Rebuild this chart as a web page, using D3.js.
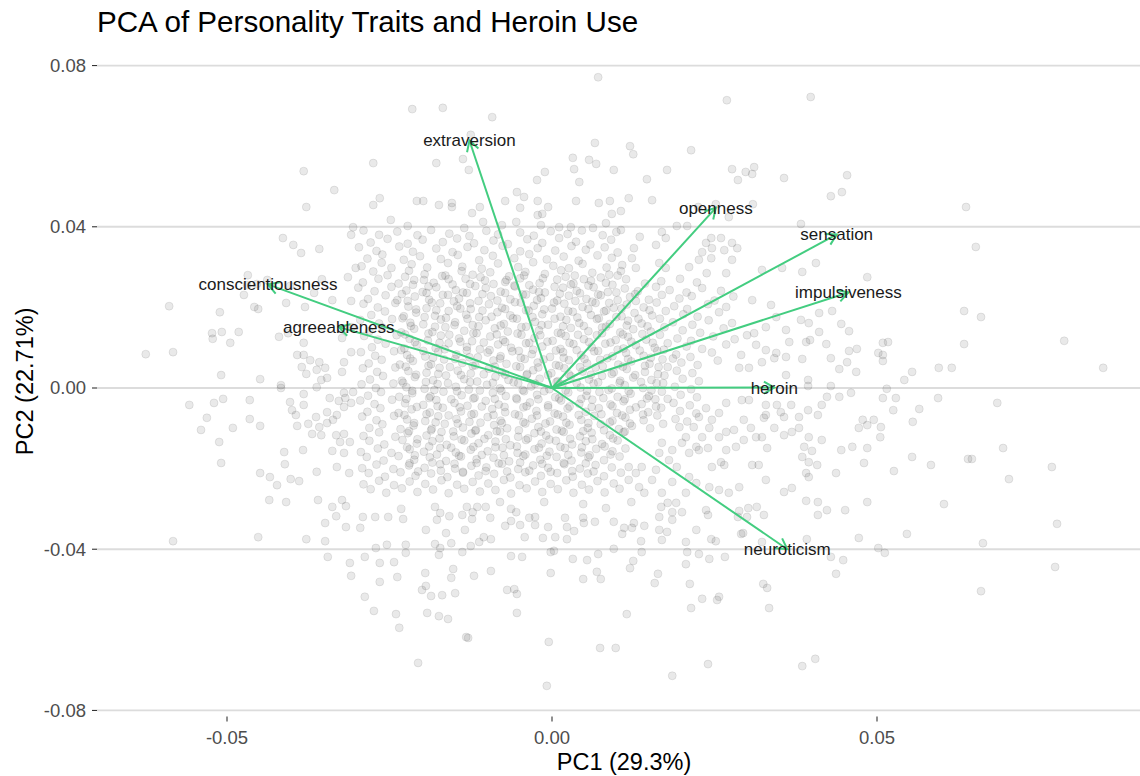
<!DOCTYPE html>
<html>
<head>
<meta charset="utf-8">
<script src="https://cdn.jsdelivr.net/npm/d3@7"></script>
<style>
  body { margin: 0; background: #ffffff; }
  text { font-family: "Liberation Sans", Arial, Helvetica, sans-serif; }
</style>
</head>
<body>
<svg id="chart" width="1140" height="776"></svg>
<script>
// ---- Chart text ----
const chartTitle = "PCA of Personality Traits and Heroin Use";
const xTitle = "PC1 (29.3%)";
const yTitle = "PC2 (22.71%)";

// ---- Axis ticks ----
const xTickValues = [-0.05, 0.00, 0.05];
const xTickLabels = ["-0.05", "0.00", "0.05"];
const yTickValues = [-0.08, -0.04, 0.00, 0.04, 0.08];
const yTickLabels = ["-0.08", "-0.04", "0.00", "0.04", "0.08"];

// ---- Variable loadings (arrow tips) ----
const variables = ["extraversion", "openness", "sensation", "impulsiveness", "heroin", "neuroticism", "conscientiousness", "agreeableness"];
const loadingPC1 = [-0.0127, 0.0252, 0.0438, 0.0456, 0.0342, 0.0362, -0.0437, -0.0328];
const loadingPC2 = [0.0614, 0.0447, 0.0381, 0.0237, 0.0001, -0.0400, 0.0257, 0.0151];

// ---- Respondent scores on PC1 / PC2 ----
const outerScores = [
  [0.0071,0.0771],[0.0398,0.0722],[-0.0215,0.0692],[-0.0168,0.0695],[-0.0092,0.0672],[0.0269,0.0714],
  [0.0066,0.0608],[0.0032,0.0571],[0.0057,0.0566],[0.0068,0.0556],[0.0095,0.0541],[0.0034,0.0543],[-0.0011,0.0536],[-0.0023,0.0516],[0.0042,0.0511],
  [-0.0275,0.0558],[-0.0178,0.0558],[-0.0137,0.0568],[-0.0128,0.0541],[-0.0125,0.0628],
  [-0.0054,0.0486],[-0.0043,0.0474],[-0.0072,0.0464],[-0.0022,0.0464],[-0.0006,0.0449],[-0.0049,0.0447],[0.0037,0.0464],[0.0072,0.0459],[0.0089,0.0464],[0.0092,0.0432],
  [-0.0022,0.0429],[-0.0015,0.0432],[-0.0123,0.0434],[-0.0111,0.0449],[-0.0154,0.0449],[-0.0154,0.0459],[-0.0174,0.0454],[-0.0198,0.0464],[-0.0208,0.0464],[-0.0265,0.0471],
  [-0.0275,0.0454],[-0.0248,0.0417],[-0.0222,0.0402],[-0.0106,0.0412],[-0.0135,0.0397],[-0.0077,0.0404],[-0.0055,0.0412],[-0.0017,0.0404],[0.0011,0.0399],[0.0029,0.0399],[0.0063,0.0397],[0.0083,0.0409],
  [0.0120,0.0600],[0.0125,0.0580],[0.0214,0.0590],[0.0177,0.0541],[0.0146,0.0518],[0.0277,0.0543],[0.0286,0.0516],[0.0298,0.0536],[0.0308,0.0531],[0.0311,0.0548],
  [0.0357,0.0521],[0.0454,0.0528],[0.0446,0.0486],[0.0429,0.0476],[0.0118,0.0471],[0.0154,0.0466],[0.0225,0.0449],[0.0252,0.0456],[0.0309,0.0456],[0.0272,0.0424],
  [0.0383,0.0407],[0.0106,0.0439],[0.0192,0.0402],[0.0208,0.0402],[0.0106,0.0392],[0.0135,0.0375],[0.0169,0.0387],[0.0175,0.0372],[0.0160,0.0355],[0.0126,0.0347],
  [0.0123,0.0322],[0.0108,0.0305],[0.0129,0.0298],[0.0165,0.0310],[0.0175,0.0298],[0.0211,0.0300],[0.0231,0.0337],[0.0246,0.0347],[0.0237,0.0360],[0.0260,0.0372],
  [0.0245,0.0372],[0.0277,0.0360],[0.0285,0.0347],[0.0265,0.0342],[0.0226,0.0318],[0.0245,0.0322],[0.0277,0.0318],[0.0238,0.0285],[0.0268,0.0285],[0.0323,0.0293],
  [0.0354,0.0298],[0.0385,0.0288],[0.0406,0.0310],[0.0485,0.0275],[0.0637,0.0449],[0.0652,0.0350],
  [-0.0382,0.0538],[-0.0335,0.0491],[-0.0378,0.0449],[-0.0306,0.0399],[-0.0309,0.0380],[-0.0414,0.0372],[-0.0398,0.0355],[-0.0386,0.0335],[-0.0358,0.0345],[-0.0302,0.0298],
  [-0.0468,0.0280],[-0.0438,0.0268],[-0.0354,0.0270],[-0.0314,0.0275],
  [-0.0589,0.0203],[-0.0511,0.0188],[-0.0523,0.0136],[-0.0522,0.0122],[-0.0508,0.0139],[-0.0495,0.0112],[-0.0482,0.0139],[-0.0625,0.0084],[-0.0583,0.0089],[-0.0509,0.0032],
  [-0.0449,0.0022],[-0.0417,0.0007],[-0.0417,0.0000],[-0.0558,-0.0042],[-0.0520,-0.0037],[-0.0506,-0.0027],[-0.0465,-0.0030],[-0.0531,-0.0074],[-0.0540,-0.0104],[-0.0491,-0.0099],
  [-0.0465,-0.0077],[-0.0449,-0.0094],[-0.0512,-0.0134],[-0.0509,-0.0186],[-0.0449,-0.0211],[-0.0434,-0.0221],[-0.0423,-0.0241],[-0.0402,-0.0226],[-0.0389,-0.0231],[-0.0411,-0.0189],
  [-0.0412,-0.0159],[-0.0383,-0.0154],[-0.0362,-0.0208],[-0.0331,-0.0196],[-0.0312,-0.0211],[-0.0403,-0.0035],[-0.0400,-0.0055],[-0.0394,-0.0067],[-0.0382,-0.0042],[-0.0382,-0.0015],
  [-0.0392,-0.0094],[-0.0375,-0.0089],[-0.0363,-0.0072],[-0.0346,-0.0060],[-0.0358,-0.0097],[-0.0346,-0.0087],[-0.0331,-0.0067],[-0.0369,-0.0114],[-0.0355,-0.0117],[-0.0338,-0.0156],
  [-0.0326,-0.0134],[-0.0320,-0.0114],[-0.0311,-0.0134],[-0.0332,-0.0117],[-0.0320,-0.0161],[-0.0337,-0.0079],[-0.0320,-0.0047],[-0.0309,-0.0037],[-0.0318,-0.0025],[-0.0320,-0.0012],
  [-0.0306,-0.0010],[-0.0342,-0.0025],[-0.0328,-0.0032],[-0.0362,0.0002],[-0.0355,0.0020],[-0.0349,0.0050],[-0.0362,0.0045],[-0.0346,0.0025],[-0.0378,0.0035],[-0.0385,0.0052],
  [-0.0382,0.0082],[-0.0392,0.0082],[-0.0372,0.0069],[-0.0358,0.0064],[-0.0320,0.0064],[-0.0323,0.0040],[-0.0382,0.0112],[-0.0420,0.0127],[-0.0406,0.0136],[-0.0323,0.0124],
  [-0.0309,0.0089],[-0.0320,0.0144],[-0.0308,0.0151],[-0.0458,0.0201],[-0.0452,0.0196],[-0.0474,0.0231],[-0.0409,0.0211],[-0.0366,0.0236],[-0.0338,0.0218],[-0.0309,0.0216],
  [-0.0380,0.0201],[-0.0469,0.0255],[-0.0454,0.0258],[-0.0403,0.0253],
  [-0.0583,-0.0380],[-0.0452,-0.0370],[-0.0378,-0.0375],[-0.0349,-0.0380],[-0.0345,-0.0419],[-0.0311,-0.0434],[-0.0309,-0.0466],[-0.0349,-0.0335],[-0.0332,-0.0318],[-0.0338,-0.0295],
  [-0.0317,-0.0345],[-0.0317,-0.0293],[-0.0435,-0.0278],[-0.0409,-0.0283],[-0.0360,-0.0278],[-0.0323,-0.0278],
  [-0.0288,-0.0518],[-0.0274,-0.0553],[-0.0240,-0.0561],[-0.0235,-0.0595],[-0.0206,-0.0682],[-0.0192,-0.0558],[-0.0174,-0.0566],[-0.0160,-0.0573],[-0.0132,-0.0618],[-0.0129,-0.0620],
  [-0.0054,-0.0558],[-0.0005,-0.0630],[-0.0008,-0.0739],[0.0074,-0.0645],[0.0098,-0.0645],[-0.0265,-0.0481],[-0.0238,-0.0469],[-0.0195,-0.0459],[-0.0200,-0.0501],[-0.0194,-0.0491],
  [-0.0186,-0.0516],[-0.0169,-0.0514],[-0.0149,-0.0509],[-0.0155,-0.0471],[-0.0152,-0.0449],[-0.0120,-0.0466],[-0.0094,-0.0454],[-0.0069,-0.0501],[-0.0058,-0.0499],[-0.0054,-0.0511],
  [-0.0002,-0.0459],[0.0048,-0.0474],[0.0069,-0.0456],[0.0075,-0.0474],[0.0032,-0.0424],[0.0054,-0.0427],[0.0071,-0.0412],[-0.0063,-0.0417],[-0.0046,-0.0419],[-0.0002,-0.0407],
  [0.0003,-0.0404],[-0.0288,-0.0419],[-0.0265,-0.0434],[-0.0243,-0.0432],[-0.0225,-0.0389],[-0.0225,-0.0409],[-0.0254,-0.0389],[-0.0271,-0.0397],[-0.0180,-0.0387],[-0.0172,-0.0397],
  [-0.0174,-0.0414],[-0.0155,-0.0385],[-0.0138,-0.0407],[-0.0125,-0.0392],[-0.0112,-0.0382],[-0.0105,-0.0370],[-0.0094,-0.0375],[-0.0042,-0.0370],[-0.0014,-0.0372],[0.0005,-0.0370],
  [0.0023,-0.0375],[0.0095,-0.0399],[-0.0295,-0.0347],[-0.0291,-0.0320],[-0.0272,-0.0320],[-0.0252,-0.0320],[-0.0229,-0.0325],[-0.0232,-0.0300],[-0.0194,-0.0352],[-0.0177,-0.0327],
  [-0.0163,-0.0360],[-0.0158,-0.0318],[-0.0180,-0.0295],[-0.0172,-0.0310],[-0.0134,-0.0352],[-0.0138,-0.0315],[-0.0123,-0.0325],[-0.0122,-0.0308],[-0.0131,-0.0295],[-0.0115,-0.0295],
  [-0.0102,-0.0295],[-0.0095,-0.0322],[-0.0072,-0.0342],[-0.0063,-0.0330],[-0.0049,-0.0340],[-0.0063,-0.0300],[-0.0055,-0.0308],[-0.0035,-0.0322],[-0.0026,-0.0320],[-0.0026,-0.0340],
  [-0.0006,-0.0345],[0.0020,-0.0322],[0.0023,-0.0345],[0.0034,-0.0355],[0.0049,-0.0335],[0.0048,-0.0322],[0.0066,-0.0332],[0.0048,-0.0288],[0.0083,-0.0298],[0.0095,-0.0332],
  [-0.0012,-0.0283],[-0.0080,-0.0283],
  [0.0115,-0.0561],[0.0185,-0.0714],[0.0240,-0.0685],[0.0385,-0.0690],[0.0405,-0.0672],[0.0214,-0.0546],[0.0231,-0.0523],[0.0254,-0.0526],[0.0257,-0.0518],[0.0334,-0.0546],
  [0.0325,-0.0486],[0.0331,-0.0496],[0.0212,-0.0486],[0.0158,-0.0484],[0.0163,-0.0461],[0.0120,-0.0447],[0.0125,-0.0429],[0.0138,-0.0407],[0.0206,-0.0437],[0.0208,-0.0407],
  [0.0226,-0.0412],[0.0242,-0.0424],[0.0266,-0.0419],[0.0206,-0.0382],[0.0222,-0.0352],[0.0245,-0.0375],[0.0252,-0.0380],[0.0291,-0.0362],[0.0294,-0.0360],[0.0323,-0.0382],
  [0.0392,-0.0375],[0.0429,-0.0419],[0.0448,-0.0427],[0.0437,-0.0461],[0.0472,-0.0372],[0.0502,-0.0397],[0.0137,-0.0380],[0.0169,-0.0377],[0.0177,-0.0357],[0.0165,-0.0352],
  [0.0142,-0.0342],[0.0126,-0.0335],[0.0111,-0.0347],[0.0123,-0.0347],[0.0108,-0.0362],[0.0185,-0.0327],[0.0200,-0.0308],[0.0185,-0.0308],[0.0165,-0.0320],[0.0168,-0.0295],
  [0.0237,-0.0303],[0.0240,-0.0315],[0.0288,-0.0305],[0.0302,-0.0298],[0.0315,-0.0295],[0.0326,-0.0315],[0.0286,-0.0320],[0.0300,-0.0320],[0.0409,-0.0315],[0.0423,-0.0303],
  [0.0451,-0.0303],[0.0485,-0.0283],[0.0409,-0.0283],[0.0391,-0.0280],[0.0122,-0.0283],[0.0178,-0.0285],[0.0191,-0.0285],
  [0.0603,-0.0288],[0.0546,-0.0362],[0.0512,-0.0409],[0.0663,-0.0385],[0.0777,-0.0337],[0.0774,-0.0444],[0.0660,-0.0504],
  [0.0634,0.0191],[0.0660,0.0176],[0.0634,0.0109],[0.0788,0.0117],[0.0848,0.0050],[0.0595,0.0050],[0.0615,0.0050],[0.0554,0.0040],[0.0542,0.0020],[0.0515,-0.0002],
  [0.0509,-0.0025],[0.0529,-0.0025],[0.0594,-0.0025],[0.0685,-0.0037],[0.0565,-0.0052],[0.0525,-0.0055],[0.0555,-0.0084],[0.0506,-0.0097],[0.0505,-0.0122],[0.0694,-0.0149],
  [0.0640,-0.0176],[0.0646,-0.0176],[0.0554,-0.0171],[0.0583,-0.0191],[0.0769,-0.0196],[0.0526,-0.0206],[0.0703,-0.0226],[0.0509,0.0112],[0.0517,0.0114],[0.0509,0.0082],
  [0.0509,0.0067],
  [0.0445,0.0159],[0.0457,0.0141],[0.0411,0.0139],[0.0391,0.0114],[0.0397,0.0119],[0.0422,0.0109],[0.0457,0.0092],[0.0469,0.0097],[0.0429,0.0074],[0.0454,0.0064],
  [0.0442,0.0047],[0.0468,0.0040],[0.0502,0.0087],[0.0385,0.0072],[0.0365,0.0114],[0.0360,0.0144],[0.0383,0.0169],[0.0411,0.0186],[0.0431,0.0191],[0.0395,0.0161],
  [0.0337,0.0206],[0.0308,0.0218],[0.0345,0.0176],[0.0329,0.0151],[0.0311,0.0136],[0.0300,0.0131],[0.0314,0.0107],[0.0329,0.0094],[0.0342,0.0074],[0.0345,0.0087],
  [0.0360,0.0077],[0.0323,0.0064],[0.0291,0.0082],[0.0288,0.0050],[0.0303,0.0050],[0.0360,0.0032],[0.0394,0.0020],[0.0394,0.0005],[0.0429,0.0005],[0.0460,-0.0012],
  [0.0442,-0.0022],[0.0423,-0.0022],[0.0415,-0.0042],[0.0394,-0.0055],[0.0409,-0.0067],[0.0380,-0.0072],[0.0368,-0.0042],[0.0346,-0.0042],[0.0329,-0.0042],[0.0352,-0.0060],
  [0.0357,-0.0072],[0.0329,-0.0067],[0.0342,-0.0099],[0.0357,-0.0117],[0.0369,-0.0109],[0.0380,-0.0099],[0.0395,-0.0122],[0.0388,-0.0146],[0.0400,-0.0156],[0.0385,-0.0171],
  [0.0395,-0.0184],[0.0415,-0.0129],[0.0445,-0.0154],[0.0462,-0.0146],[0.0485,-0.0149],[0.0478,-0.0079],[0.0485,-0.0092],[0.0472,-0.0099],[0.0495,-0.0079],[0.0480,-0.0186],
  [0.0437,-0.0211],[0.0408,-0.0191],[0.0391,-0.0211],[0.0395,-0.0221],[0.0369,-0.0248],[0.0357,-0.0258],[0.0329,-0.0228],[0.0318,-0.0191],[0.0308,-0.0191],[0.0331,-0.0149],
  [0.0323,-0.0122],[0.0314,-0.0122],[0.0306,-0.0099],[0.0295,-0.0129],[0.0283,-0.0146],[0.0268,-0.0154],[0.0260,-0.0184],[0.0265,-0.0191],[0.0246,-0.0196],[0.0240,-0.0149],
  [0.0226,-0.0154],[0.0231,-0.0122],[0.0242,-0.0099],[0.0257,-0.0122],[0.0268,-0.0109],[0.0280,-0.0104],[0.0295,-0.0079],[0.0326,-0.0074],[0.0292,-0.0030],[0.0303,-0.0030],
  [0.0268,-0.0037],[0.0257,-0.0062],[0.0237,-0.0050],[0.0226,-0.0072],[0.0246,-0.0079],[0.0218,-0.0097],[0.0206,-0.0122],[0.0222,-0.0146],[0.0211,-0.0161],[0.0200,-0.0136],
  [0.0185,-0.0154],[0.0169,-0.0136],[0.0165,-0.0161],[0.0180,-0.0179],[0.0192,-0.0196],[0.0211,-0.0221],[0.0222,-0.0236],[0.0242,-0.0246],[0.0257,-0.0253],[0.0288,-0.0246],
  [0.0272,-0.0260],[0.0185,-0.0233],[0.0154,-0.0228],[0.0134,-0.0246],[0.0129,-0.0211],[0.0118,-0.0196],[0.0138,-0.0196],[0.0160,-0.0203],[0.0118,-0.0228],[0.0142,-0.0260],
  [0.0169,-0.0260],[0.0206,-0.0260]
];

// Dense central band, read row by row
const coreScores = [
  [-0.0290,0.0391],[-0.0266,0.0380],[-0.0238,0.0388],[-0.0207,0.0379],[-0.0186,0.0392],[-0.0158,0.0383],[-0.0127,0.0377],[-0.0101,0.0390],[-0.0083,0.0381],[-0.0049,0.0386],[-0.0028,0.0378],[-0.0002,0.0389],[0.0024,0.0382],[0.0046,0.0391],[0.0078,0.0379],[0.0099,0.0387],
  [-0.0279,0.0361],[-0.0253,0.0370],[-0.0222,0.0358],[-0.0199,0.0368],[-0.0168,0.0362],[-0.0146,0.0371],[-0.0120,0.0359],[-0.0090,0.0366],[-0.0068,0.0357],[-0.0038,0.0369],[-0.0015,0.0360],[0.0011,0.0372],[0.0037,0.0363],[0.0059,0.0356],[0.0091,0.0368],
  [-0.0297,0.0349],[-0.0270,0.0340],[-0.0235,0.0351],[-0.0214,0.0338],[-0.0178,0.0346],[-0.0153,0.0337],[-0.0130,0.0350],[-0.0104,0.0342],[-0.0076,0.0353],[-0.0049,0.0339],[-0.0022,0.0347],[0.0005,0.0341],[0.0030,0.0352],[0.0052,0.0343],[0.0081,0.0349],[0.0101,0.0336],
  [-0.0284,0.0321],[-0.0261,0.0331],[-0.0228,0.0318],[-0.0203,0.0327],[-0.0171,0.0320],[-0.0145,0.0330],[-0.0112,0.0317],[-0.0091,0.0328],[-0.0058,0.0322],[-0.0035,0.0332],[-0.0008,0.0319],[0.0018,0.0326],[0.0041,0.0316],[0.0070,0.0329],[0.0092,0.0323],
  [-0.0293,0.0302],[-0.0262,0.0311],[-0.0247,0.0298],[-0.0216,0.0307],[-0.0192,0.0299],[-0.0160,0.0310],[-0.0138,0.0301],[-0.0108,0.0296],[-0.0083,0.0309],[-0.0052,0.0300],[-0.0029,0.0312],[0.0002,0.0303],[0.0026,0.0297],[0.0047,0.0308],[0.0084,0.0299],
  [-0.0275,0.0289],[-0.0253,0.0280],[-0.0220,0.0291],[-0.0196,0.0282],[-0.0169,0.0278],[-0.0139,0.0290],[-0.0122,0.0281],[-0.0095,0.0287],[-0.0066,0.0277],[-0.0041,0.0288],[-0.0011,0.0283],[0.0014,0.0292],[0.0035,0.0279],[0.0062,0.0286],[0.0088,0.0281],[0.0106,0.0290],
  [-0.0291,0.0262],[-0.0267,0.0271],[-0.0236,0.0259],[-0.0212,0.0268],[-0.0182,0.0261],[-0.0159,0.0270],[-0.0126,0.0258],[-0.0103,0.0267],[-0.0072,0.0263],[-0.0049,0.0272],[-0.0019,0.0260],[0.0008,0.0269],[0.0029,0.0257],[0.0060,0.0266],[0.0083,0.0261],[0.0114,0.0270],[0.0143,0.0259],[0.0168,0.0265],[0.0197,0.0271],[0.0223,0.0262],
  [-0.0298,0.0249],[-0.0273,0.0240],[-0.0247,0.0251],[-0.0224,0.0242],[-0.0199,0.0238],[-0.0178,0.0250],[-0.0148,0.0243],[-0.0131,0.0236],[-0.0102,0.0248],[-0.0079,0.0239],[-0.0057,0.0252],[-0.0029,0.0244],[-0.0011,0.0237],[0.0017,0.0249],[0.0038,0.0241],[0.0064,0.0250],[0.0086,0.0238],[0.0112,0.0247],[0.0132,0.0240],[0.0160,0.0251],[0.0181,0.0243],[0.0207,0.0237],[0.0231,0.0248],[0.0260,0.0241],
  [-0.0283,0.0221],[-0.0256,0.0230],[-0.0238,0.0218],[-0.0211,0.0227],[-0.0189,0.0219],[-0.0160,0.0231],[-0.0143,0.0222],[-0.0113,0.0216],[-0.0094,0.0228],[-0.0064,0.0220],[-0.0045,0.0232],[-0.0017,0.0223],[0.0008,0.0217],[0.0026,0.0229],[0.0053,0.0221],[0.0075,0.0230],[0.0101,0.0218],[0.0120,0.0226],[0.0149,0.0219],[0.0169,0.0231],[0.0196,0.0222],[0.0215,0.0228],[0.0250,0.0217],[0.0279,0.0227],
  [-0.0290,0.0209],[-0.0268,0.0200],[-0.0241,0.0211],[-0.0221,0.0202],[-0.0193,0.0198],[-0.0172,0.0210],[-0.0146,0.0203],[-0.0125,0.0196],[-0.0097,0.0208],[-0.0077,0.0199],[-0.0048,0.0212],[-0.0028,0.0204],[0.0000,0.0197],[0.0019,0.0209],[0.0047,0.0201],[0.0067,0.0211],[0.0095,0.0199],[0.0115,0.0207],[0.0141,0.0200],[0.0161,0.0212],[0.0188,0.0203],[0.0208,0.0196],[0.0240,0.0208],[0.0268,0.0201],
  [-0.0278,0.0181],[-0.0257,0.0190],[-0.0228,0.0178],[-0.0209,0.0187],[-0.0180,0.0179],[-0.0159,0.0191],[-0.0132,0.0182],[-0.0112,0.0176],[-0.0084,0.0188],[-0.0064,0.0180],[-0.0036,0.0192],[-0.0015,0.0183],[0.0013,0.0177],[0.0032,0.0189],[0.0060,0.0181],[0.0080,0.0190],[0.0107,0.0178],[0.0127,0.0186],[0.0154,0.0180],[0.0175,0.0191],[0.0202,0.0183],[0.0224,0.0177],[0.0257,0.0188],
  [-0.0295,0.0169],[-0.0266,0.0160],[-0.0246,0.0171],[-0.0218,0.0162],[-0.0198,0.0158],[-0.0171,0.0170],[-0.0149,0.0163],[-0.0122,0.0156],[-0.0102,0.0168],[-0.0074,0.0159],[-0.0054,0.0172],[-0.0026,0.0164],[-0.0006,0.0157],[0.0022,0.0169],[0.0042,0.0161],[0.0069,0.0171],[0.0089,0.0159],[0.0117,0.0167],[0.0138,0.0160],[0.0166,0.0172],[0.0186,0.0163],[0.0216,0.0157],[0.0241,0.0168],[0.0277,0.0161],
  [-0.0281,0.0141],[-0.0261,0.0150],[-0.0232,0.0138],[-0.0212,0.0147],[-0.0184,0.0139],[-0.0164,0.0151],[-0.0135,0.0142],[-0.0116,0.0136],[-0.0088,0.0148],[-0.0068,0.0140],[-0.0040,0.0152],[-0.0020,0.0143],[0.0009,0.0137],[0.0029,0.0149],[0.0056,0.0141],[0.0077,0.0150],[0.0105,0.0138],[0.0125,0.0146],[0.0152,0.0140],[0.0173,0.0151],[0.0201,0.0143],[0.0228,0.0137],[0.0264,0.0148],
  [-0.0289,0.0129],[-0.0268,0.0120],[-0.0239,0.0131],[-0.0219,0.0122],[-0.0191,0.0118],[-0.0171,0.0130],[-0.0143,0.0123],[-0.0123,0.0116],[-0.0095,0.0128],[-0.0075,0.0119],[-0.0047,0.0132],[-0.0027,0.0124],[0.0001,0.0117],[0.0021,0.0129],[0.0049,0.0121],[0.0069,0.0131],[0.0098,0.0119],[0.0117,0.0127],[0.0145,0.0120],[0.0166,0.0132],[0.0193,0.0123],[0.0214,0.0117],[0.0248,0.0128],[0.0281,0.0121],
  [-0.0277,0.0101],[-0.0256,0.0110],[-0.0227,0.0098],[-0.0208,0.0107],[-0.0179,0.0099],[-0.0159,0.0111],[-0.0131,0.0102],[-0.0111,0.0096],[-0.0083,0.0108],[-0.0063,0.0100],[-0.0035,0.0112],[-0.0015,0.0103],[0.0013,0.0097],[0.0033,0.0109],[0.0061,0.0101],[0.0082,0.0110],[0.0110,0.0098],[0.0129,0.0106],[0.0158,0.0100],[0.0178,0.0111],[0.0207,0.0103],[0.0231,0.0097],[0.0268,0.0108],
  [-0.0294,0.0089],[-0.0272,0.0080],[-0.0243,0.0091],[-0.0223,0.0082],[-0.0195,0.0078],[-0.0175,0.0090],[-0.0147,0.0083],[-0.0127,0.0076],[-0.0099,0.0088],[-0.0079,0.0079],[-0.0051,0.0092],[-0.0031,0.0084],[-0.0003,0.0077],[0.0017,0.0089],[0.0045,0.0081],[0.0065,0.0091],[0.0093,0.0079],[0.0114,0.0087],[0.0141,0.0080],[0.0162,0.0092],[0.0191,0.0083],[0.0213,0.0077],[0.0246,0.0088],
  [-0.0282,0.0061],[-0.0262,0.0070],[-0.0234,0.0058],[-0.0214,0.0067],[-0.0186,0.0059],[-0.0166,0.0071],[-0.0138,0.0062],[-0.0118,0.0056],[-0.0090,0.0068],[-0.0070,0.0060],[-0.0042,0.0072],[-0.0022,0.0063],[0.0006,0.0057],[0.0026,0.0069],[0.0054,0.0061],[0.0074,0.0070],[0.0102,0.0058],[0.0122,0.0066],[0.0150,0.0060],[0.0170,0.0071],[0.0199,0.0063],[0.0224,0.0057],[0.0255,0.0068],
  [-0.0291,0.0049],[-0.0269,0.0040],[-0.0241,0.0051],[-0.0221,0.0042],[-0.0193,0.0038],[-0.0173,0.0050],[-0.0145,0.0043],[-0.0125,0.0036],[-0.0097,0.0048],[-0.0077,0.0039],[-0.0049,0.0052],[-0.0029,0.0044],[-0.0001,0.0037],[0.0019,0.0049],[0.0047,0.0041],[0.0067,0.0051],[0.0095,0.0039],[0.0115,0.0047],[0.0143,0.0040],[0.0164,0.0052],[0.0192,0.0043],[0.0216,0.0037],
  [-0.0280,0.0021],[-0.0260,0.0030],[-0.0231,0.0018],[-0.0211,0.0027],[-0.0183,0.0019],[-0.0163,0.0031],[-0.0135,0.0022],[-0.0115,0.0016],[-0.0087,0.0028],[-0.0067,0.0020],[-0.0039,0.0032],[-0.0019,0.0023],[0.0009,0.0017],[0.0029,0.0029],[0.0057,0.0021],[0.0077,0.0030],[0.0105,0.0018],[0.0125,0.0026],[0.0153,0.0020],[0.0173,0.0031],[0.0201,0.0023],[0.0226,0.0017],
  [-0.0293,0.0009],[-0.0271,0.0000],[-0.0244,0.0011],[-0.0224,0.0002],[-0.0196,-0.0002],[-0.0176,0.0010],[-0.0148,0.0003],[-0.0128,-0.0004],[-0.0100,0.0008],[-0.0080,-0.0001],[-0.0052,0.0012],[-0.0032,0.0004],[-0.0004,-0.0003],[0.0016,0.0009],[0.0044,0.0001],[0.0064,0.0011],[0.0092,-0.0001],[0.0112,0.0007],[0.0140,0.0000],[0.0161,0.0012],[0.0189,0.0003],[0.0214,-0.0003],
  [-0.0283,-0.0019],[-0.0263,-0.0010],[-0.0235,-0.0022],[-0.0215,-0.0013],[-0.0187,-0.0021],[-0.0167,-0.0009],[-0.0139,-0.0018],[-0.0119,-0.0024],[-0.0091,-0.0012],[-0.0071,-0.0020],[-0.0043,-0.0008],[-0.0023,-0.0017],[0.0005,-0.0023],[0.0025,-0.0011],[0.0053,-0.0019],[0.0073,-0.0010],[0.0101,-0.0022],[0.0121,-0.0014],[0.0149,-0.0020],[0.0169,-0.0009],[0.0198,-0.0017],[0.0223,-0.0023],
  [-0.0295,-0.0031],[-0.0273,-0.0040],[-0.0246,-0.0029],[-0.0226,-0.0038],[-0.0198,-0.0042],[-0.0178,-0.0030],[-0.0150,-0.0037],[-0.0130,-0.0044],[-0.0102,-0.0032],[-0.0082,-0.0041],[-0.0054,-0.0028],[-0.0034,-0.0036],[-0.0006,-0.0043],[0.0014,-0.0031],[0.0042,-0.0039],[0.0062,-0.0029],[0.0090,-0.0041],[0.0110,-0.0033],[0.0138,-0.0040],[0.0159,-0.0028],[0.0187,-0.0037],[0.0212,-0.0043],
  [-0.0284,-0.0059],[-0.0264,-0.0050],[-0.0236,-0.0062],[-0.0216,-0.0053],[-0.0188,-0.0061],[-0.0168,-0.0049],[-0.0140,-0.0058],[-0.0120,-0.0064],[-0.0092,-0.0052],[-0.0072,-0.0060],[-0.0044,-0.0048],[-0.0024,-0.0057],[0.0004,-0.0063],[0.0024,-0.0051],[0.0052,-0.0059],[0.0072,-0.0050],[0.0100,-0.0062],[0.0120,-0.0054],[0.0148,-0.0060],[0.0168,-0.0049],[0.0197,-0.0057],[0.0222,-0.0063],
  [-0.0292,-0.0071],[-0.0270,-0.0080],[-0.0243,-0.0069],[-0.0223,-0.0078],[-0.0195,-0.0082],[-0.0175,-0.0070],[-0.0147,-0.0077],[-0.0127,-0.0084],[-0.0099,-0.0072],[-0.0079,-0.0081],[-0.0051,-0.0068],[-0.0031,-0.0076],[-0.0003,-0.0083],[0.0017,-0.0071],[0.0045,-0.0079],[0.0065,-0.0069],[0.0093,-0.0081],[0.0113,-0.0073],[0.0141,-0.0080],[0.0162,-0.0068],[0.0190,-0.0077],[0.0208,-0.0083],
  [-0.0281,-0.0099],[-0.0261,-0.0090],[-0.0233,-0.0102],[-0.0213,-0.0093],[-0.0185,-0.0101],[-0.0165,-0.0089],[-0.0137,-0.0098],[-0.0117,-0.0104],[-0.0089,-0.0092],[-0.0069,-0.0100],[-0.0041,-0.0088],[-0.0021,-0.0097],[0.0007,-0.0103],[0.0027,-0.0091],[0.0055,-0.0099],[0.0075,-0.0090],[0.0103,-0.0102],[0.0123,-0.0094],[0.0151,-0.0100],[0.0171,-0.0089],[0.0196,-0.0097],
  [-0.0290,-0.0119],[-0.0266,-0.0110],[-0.0241,-0.0121],[-0.0222,-0.0112],[-0.0193,-0.0118],[-0.0170,-0.0109],[-0.0151,-0.0120],[-0.0124,-0.0113],[-0.0098,-0.0117],[-0.0080,-0.0108],[-0.0052,-0.0121],[-0.0027,-0.0112],[-0.0009,-0.0118],[0.0018,-0.0109],[0.0043,-0.0120],[0.0061,-0.0111],[0.0089,-0.0117],[0.0110,-0.0110],
  [-0.0281,-0.0131],[-0.0258,-0.0140],[-0.0230,-0.0129],[-0.0208,-0.0138],[-0.0184,-0.0132],[-0.0162,-0.0141],[-0.0135,-0.0130],[-0.0113,-0.0137],[-0.0087,-0.0133],[-0.0064,-0.0142],[-0.0040,-0.0129],[-0.0016,-0.0138],[0.0006,-0.0131],[0.0031,-0.0140],[0.0052,-0.0132],[0.0077,-0.0139],[0.0101,-0.0130],
  [-0.0294,-0.0159],[-0.0268,-0.0150],[-0.0247,-0.0161],[-0.0219,-0.0152],[-0.0197,-0.0158],[-0.0172,-0.0149],[-0.0148,-0.0160],[-0.0125,-0.0153],[-0.0099,-0.0157],[-0.0076,-0.0148],[-0.0053,-0.0161],[-0.0027,-0.0152],[-0.0004,-0.0158],[0.0020,-0.0149],[0.0045,-0.0160],[0.0068,-0.0151],[0.0093,-0.0157],[0.0113,-0.0150],
  [-0.0285,-0.0171],[-0.0259,-0.0180],[-0.0236,-0.0169],[-0.0212,-0.0178],[-0.0188,-0.0172],[-0.0163,-0.0181],[-0.0140,-0.0170],[-0.0116,-0.0177],[-0.0090,-0.0173],[-0.0066,-0.0182],[-0.0044,-0.0169],[-0.0018,-0.0178],[0.0007,-0.0171],[0.0030,-0.0180],[0.0056,-0.0172],[0.0080,-0.0179],[0.0104,-0.0170],
  [-0.0292,-0.0199],[-0.0270,-0.0190],[-0.0244,-0.0201],[-0.0220,-0.0192],[-0.0196,-0.0198],[-0.0172,-0.0189],[-0.0149,-0.0200],[-0.0124,-0.0193],[-0.0101,-0.0197],[-0.0077,-0.0188],[-0.0052,-0.0201],[-0.0029,-0.0192],[-0.0006,-0.0198],[0.0019,-0.0189],[0.0043,-0.0200],[0.0067,-0.0191],[0.0092,-0.0197],
  [-0.0282,-0.0211],[-0.0257,-0.0220],[-0.0233,-0.0209],[-0.0210,-0.0218],[-0.0186,-0.0212],[-0.0161,-0.0221],[-0.0137,-0.0210],[-0.0113,-0.0217],[-0.0089,-0.0213],[-0.0064,-0.0222],[-0.0041,-0.0209],[-0.0017,-0.0218],[0.0008,-0.0211],[0.0032,-0.0220],[0.0055,-0.0212],[0.0080,-0.0219],[0.0106,-0.0210],
  [-0.0290,-0.0239],[-0.0266,-0.0230],[-0.0243,-0.0241],[-0.0219,-0.0232],[-0.0195,-0.0238],[-0.0170,-0.0229],[-0.0146,-0.0240],[-0.0122,-0.0233],[-0.0098,-0.0237],[-0.0074,-0.0228],[-0.0050,-0.0241],[-0.0026,-0.0232],[-0.0002,-0.0238],[0.0022,-0.0229],[0.0046,-0.0240],[0.0070,-0.0231],[0.0095,-0.0237],
  [-0.0279,-0.0251],[-0.0255,-0.0260],[-0.0231,-0.0249],[-0.0207,-0.0258],[-0.0183,-0.0252],[-0.0159,-0.0261],[-0.0135,-0.0250],[-0.0111,-0.0257],[-0.0087,-0.0253],[-0.0063,-0.0262],[-0.0039,-0.0249],[-0.0015,-0.0258],[0.0009,-0.0251],[0.0033,-0.0260],[0.0057,-0.0252],[0.0081,-0.0259],[0.0104,-0.0250]
];

// Densest area around the origin
const centreScores = [
  [-0.0226,0.0276],[-0.0197,0.0268],[-0.0164,0.0279],[-0.0133,0.0271],[-0.0110,0.0275],[-0.0070,0.0268],[-0.0043,0.0279],[-0.0014,0.0272],[0.0021,0.0276],[0.0049,0.0270],[0.0075,0.0274],[0.0101,0.0279],
  [-0.0214,0.0256],[-0.0190,0.0252],[-0.0153,0.0257],[-0.0118,0.0253],[-0.0090,0.0258],[-0.0058,0.0254],[-0.0035,0.0255],[0.0004,0.0251],[0.0033,0.0259],[0.0056,0.0254],[0.0093,0.0256],
  [-0.0231,0.0233],[-0.0193,0.0236],[-0.0168,0.0231],[-0.0137,0.0237],[-0.0107,0.0233],[-0.0072,0.0236],[-0.0040,0.0232],[-0.0020,0.0238],[0.0012,0.0234],[0.0043,0.0235],[0.0071,0.0232],[0.0099,0.0237],[0.0128,0.0233],
  [-0.0222,0.0216],[-0.0185,0.0212],[-0.0151,0.0215],[-0.0126,0.0210],[-0.0084,0.0217],[-0.0057,0.0213],[-0.0023,0.0218],[0.0003,0.0212],[0.0036,0.0216],[0.0062,0.0214],[0.0088,0.0211],[0.0129,0.0216],
  [-0.0209,0.0195],[-0.0178,0.0193],[-0.0141,0.0197],[-0.0107,0.0192],[-0.0072,0.0196],[-0.0040,0.0193],[-0.0012,0.0195],[0.0025,0.0191],[0.0056,0.0196],[0.0083,0.0192],[0.0107,0.0197],[0.0150,0.0193],
  [-0.0230,0.0173],[-0.0196,0.0176],[-0.0163,0.0174],[-0.0130,0.0172],[-0.0093,0.0177],[-0.0060,0.0173],[-0.0030,0.0176],[0.0004,0.0172],[0.0039,0.0175],[0.0072,0.0173],[0.0099,0.0176],[0.0133,0.0172],
  [-0.0217,0.0154],[-0.0180,0.0152],[-0.0150,0.0156],[-0.0113,0.0153],[-0.0079,0.0155],[-0.0047,0.0151],[-0.0016,0.0156],[0.0017,0.0153],[0.0049,0.0154],[0.0083,0.0152],[0.0115,0.0155],[0.0147,0.0153],
  [-0.0226,0.0133],[-0.0190,0.0135],[-0.0158,0.0132],[-0.0121,0.0136],[-0.0085,0.0133],[-0.0053,0.0135],[-0.0018,0.0131],[0.0014,0.0135],[0.0040,0.0132],[0.0077,0.0136],[0.0109,0.0133],[0.0139,0.0134],
  [-0.0211,0.0114],[-0.0173,0.0112],[-0.0141,0.0115],[-0.0105,0.0113],[-0.0072,0.0114],[-0.0040,0.0111],[-0.0007,0.0115],[0.0027,0.0112],[0.0057,0.0114],[0.0090,0.0113],[0.0122,0.0115],[0.0155,0.0112],
  [-0.0232,0.0094],[-0.0198,0.0092],[-0.0165,0.0096],[-0.0131,0.0093],[-0.0096,0.0094],[-0.0061,0.0091],[-0.0029,0.0095],[0.0006,0.0093],[0.0038,0.0094],[0.0071,0.0092],[0.0101,0.0095],[0.0135,0.0093],[0.0172,0.0095],
  [-0.0218,0.0073],[-0.0183,0.0075],[-0.0149,0.0072],[-0.0114,0.0076],[-0.0080,0.0073],[-0.0048,0.0075],[-0.0013,0.0071],[0.0018,0.0075],[0.0050,0.0072],[0.0085,0.0074],[0.0117,0.0072],[0.0152,0.0075],[0.0186,0.0073],
  [-0.0225,0.0053],[-0.0190,0.0055],[-0.0157,0.0052],[-0.0122,0.0055],[-0.0088,0.0053],[-0.0055,0.0054],[-0.0021,0.0051],[0.0011,0.0055],[0.0043,0.0052],[0.0078,0.0054],[0.0109,0.0053],[0.0143,0.0055],[0.0178,0.0052],
  [-0.0209,0.0033],[-0.0175,0.0035],[-0.0140,0.0032],[-0.0105,0.0034],[-0.0072,0.0033],[-0.0038,0.0035],[-0.0006,0.0032],[0.0026,0.0034],[0.0060,0.0033],[0.0092,0.0035],[0.0128,0.0032],[0.0163,0.0034],
  [-0.0229,0.0013],[-0.0194,0.0015],[-0.0160,0.0012],[-0.0126,0.0015],[-0.0091,0.0013],[-0.0059,0.0014],[-0.0026,0.0011],[0.0007,0.0015],[0.0038,0.0012],[0.0071,0.0014],[0.0104,0.0013],[0.0137,0.0015],[0.0171,0.0012],
  [-0.0215,-0.0007],[-0.0181,-0.0005],[-0.0146,-0.0008],[-0.0111,-0.0006],[-0.0078,-0.0007],[-0.0045,-0.0005],[-0.0012,-0.0008],[0.0021,-0.0006],[0.0054,-0.0007],[0.0087,-0.0005],[0.0118,-0.0008],[0.0153,-0.0006],
  [-0.0224,-0.0027],[-0.0189,-0.0025],[-0.0155,-0.0028],[-0.0121,-0.0026],[-0.0088,-0.0027],[-0.0055,-0.0025],[-0.0021,-0.0028],[0.0011,-0.0026],[0.0045,-0.0027],[0.0079,-0.0025],[0.0112,-0.0028],[0.0146,-0.0026],[0.0178,-0.0027],
  [-0.0208,-0.0047],[-0.0176,-0.0045],[-0.0142,-0.0048],[-0.0108,-0.0046],[-0.0073,-0.0047],[-0.0039,-0.0045],[-0.0006,-0.0048],[0.0027,-0.0046],[0.0061,-0.0047],[0.0093,-0.0045],[0.0129,-0.0048],[0.0160,-0.0046],
  [-0.0227,-0.0067],[-0.0193,-0.0065],[-0.0159,-0.0068],[-0.0124,-0.0066],[-0.0090,-0.0067],[-0.0057,-0.0065],[-0.0023,-0.0068],[0.0009,-0.0066],[0.0041,-0.0067],[0.0076,-0.0065],[0.0108,-0.0068],[0.0140,-0.0066],
  [-0.0212,-0.0087],[-0.0179,-0.0085],[-0.0145,-0.0088],[-0.0110,-0.0086],[-0.0077,-0.0087],[-0.0044,-0.0085],[-0.0010,-0.0088],[0.0022,-0.0086],[0.0056,-0.0087],[0.0089,-0.0085],[0.0120,-0.0088],
  [-0.0220,-0.0107],[-0.0186,-0.0105],[-0.0152,-0.0108],[-0.0118,-0.0106],[-0.0085,-0.0107],[-0.0051,-0.0105],[-0.0017,-0.0108],[0.0015,-0.0106],[0.0048,-0.0107],[0.0080,-0.0105],[0.0112,-0.0108],
  [-0.0207,-0.0127],[-0.0173,-0.0125],[-0.0139,-0.0128],[-0.0104,-0.0126],[-0.0071,-0.0127],[-0.0037,-0.0125],[-0.0004,-0.0128],[0.0028,-0.0126],[0.0062,-0.0127],[0.0094,-0.0125],
  [-0.0223,-0.0147],[-0.0189,-0.0145],[-0.0155,-0.0148],[-0.0121,-0.0146],[-0.0087,-0.0147],[-0.0054,-0.0145],[-0.0020,-0.0148],[0.0013,-0.0146],[0.0046,-0.0147],[0.0081,-0.0145],
  [-0.0211,-0.0167],[-0.0177,-0.0165],[-0.0143,-0.0168],[-0.0108,-0.0166],[-0.0074,-0.0167],[-0.0041,-0.0165],[-0.0008,-0.0168],[0.0025,-0.0166],[0.0058,-0.0167],[0.0090,-0.0165],
  [-0.0219,-0.0187],[-0.0184,-0.0185],[-0.0150,-0.0188],[-0.0116,-0.0186],[-0.0082,-0.0187],[-0.0049,-0.0185],[-0.0015,-0.0188],[0.0018,-0.0186],[0.0052,-0.0187],
  [-0.0206,-0.0207],[-0.0171,-0.0205],[-0.0137,-0.0208],[-0.0102,-0.0206],[-0.0069,-0.0207],[-0.0035,-0.0205],[-0.0002,-0.0208],[0.0031,-0.0206],[0.0064,-0.0207]
];

const scores = outerScores.concat(coreScores, centreScores);

// ---- Layout ----
const svg = d3.select("#chart");
const panel = { left: 97, right: 1140.25, top: 46.2, bottom: 716.5 };

const x = d3.scaleLinear().domain([-0.0700, 0.0905]).range([panel.left, panel.right]);
const y = d3.scaleLinear().domain([-0.0815, 0.0848]).range([panel.bottom, panel.top]);

svg.append("rect").attr("width", 1140).attr("height", 776).attr("fill", "#ffffff");

svg.append("defs").append("clipPath").attr("id", "panel-clip")
  .append("rect")
  .attr("x", panel.left).attr("y", panel.top)
  .attr("width", panel.right - panel.left).attr("height", panel.bottom - panel.top);

// Horizontal major grid lines
svg.append("g").selectAll("line")
  .data(yTickValues).join("line")
  .attr("x1", panel.left).attr("x2", 1140)
  .attr("y1", d => y(d)).attr("y2", d => y(d))
  .attr("stroke", "#dcdcdc").attr("stroke-width", 1.8);

// Points
svg.append("g").attr("clip-path", "url(#panel-clip)")
  .selectAll("circle")
  .data(scores).join("circle")
  .attr("cx", d => x(d[0])).attr("cy", d => y(d[1]))
  .attr("r", 4)
  .attr("fill", "#000").attr("fill-opacity", 0.085)
  .attr("stroke", "#000").attr("stroke-opacity", 0.085).attr("stroke-width", 1);

// Loading arrows
const arrowColor = "#43CD80";
const arrows = svg.append("g");
variables.forEach((name, i) => {
  const x0 = x(0), y0 = y(0);
  const x1 = x(loadingPC1[i]), y1 = y(loadingPC2[i]);
  arrows.append("line")
    .attr("x1", x0).attr("y1", y0).attr("x2", x1).attr("y2", y1)
    .attr("stroke", arrowColor).attr("stroke-width", 2);
  const ang = Math.atan2(y1 - y0, x1 - x0);
  const len = 12, spread = Math.PI / 6;
  const pts = [
    [x1 - len * Math.cos(ang - spread), y1 - len * Math.sin(ang - spread)],
    [x1, y1],
    [x1 - len * Math.cos(ang + spread), y1 - len * Math.sin(ang + spread)]
  ];
  arrows.append("polyline")
    .attr("points", pts.map(p => p.join(",")).join(" "))
    .attr("fill", "none").attr("stroke", arrowColor).attr("stroke-width", 2)
    .attr("stroke-linecap", "butt").attr("stroke-linejoin", "miter");
});

// Arrow labels
svg.append("g").selectAll("text")
  .data(variables).join("text")
  .attr("x", (d, i) => x(loadingPC1[i]))
  .attr("y", (d, i) => y(loadingPC2[i]))
  .attr("dy", "0.35em")
  .attr("text-anchor", "middle")
  .attr("font-size", 17)
  .attr("fill", "#1a1a1a")
  .text(d => d);

// Y axis ticks and labels
const yAxis = svg.append("g");
yAxis.selectAll("line").data(yTickValues).join("line")
  .attr("x1", panel.left - 5).attr("x2", panel.left)
  .attr("y1", d => y(d)).attr("y2", d => y(d))
  .attr("stroke", "#333333").attr("stroke-width", 1.1);
yAxis.selectAll("text").data(yTickValues).join("text")
  .attr("x", panel.left - 11).attr("y", d => y(d))
  .attr("dy", "0.35em").attr("text-anchor", "end")
  .attr("font-size", 18.5).attr("fill", "#4d4d4d")
  .text((d, i) => yTickLabels[i]);

// X axis ticks and labels
const xAxis = svg.append("g");
xAxis.selectAll("line").data(xTickValues).join("line")
  .attr("x1", d => x(d)).attr("x2", d => x(d))
  .attr("y1", panel.bottom).attr("y2", panel.bottom + 5)
  .attr("stroke", "#333333").attr("stroke-width", 1.1);
xAxis.selectAll("text").data(xTickValues).join("text")
  .attr("x", d => x(d)).attr("y", 744)
  .attr("text-anchor", "middle")
  .attr("font-size", 18.5).attr("fill", "#4d4d4d")
  .text((d, i) => xTickLabels[i]);

// Titles
svg.append("text")
  .attr("x", 97).attr("y", 32)
  .attr("font-size", 29.6).attr("fill", "#000")
  .text(chartTitle);

svg.append("text")
  .attr("x", (panel.left + 1151) / 2).attr("y", 770)
  .attr("text-anchor", "middle")
  .attr("font-size", 23.5).attr("fill", "#000")
  .text(xTitle);

svg.append("text")
  .attr("transform", `translate(33, ${(panel.top + panel.bottom) / 2}) rotate(-90)`)
  .attr("text-anchor", "middle")
  .attr("font-size", 23.5).attr("fill", "#000")
  .text(yTitle);
</script>
</body>
</html>
